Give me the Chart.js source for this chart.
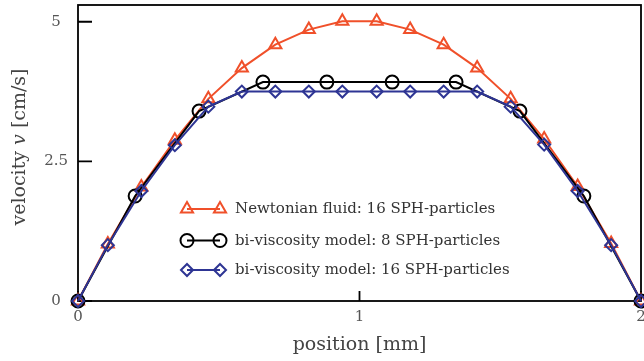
<!DOCTYPE html>
<html><head><meta charset="utf-8">
<script src="https://cdn.jsdelivr.net/npm/chart.js@4.4.0/dist/chart.umd.min.js"></script>
<style>html,body{margin:0;padding:0;background:#fff;} canvas{display:block;}</style>
</head><body>
<canvas id="c" width="644" height="361"></canvas>
<script>
// ---- data ----
const xTicks = [0, 1, 2];
const yTicks = [0, 2.5, 5];

const posNewtonian = [0, 0.106, 0.225, 0.344, 0.463, 0.582, 0.701, 0.820, 0.939, 1.061, 1.180, 1.299, 1.418, 1.537, 1.656, 1.775, 1.894, 2];
const velNewtonian = [0, 1.02, 2.04, 2.88, 3.62, 4.17, 4.59, 4.86, 5.01, 5.01, 4.86, 4.59, 4.17, 3.62, 2.90, 2.05, 1.03, 0];

const posBivisc8 = [0, 0.203, 0.430, 0.657, 0.884, 1.116, 1.343, 1.570, 1.797, 2];
const velBivisc8 = [0, 1.88, 3.40, 3.92, 3.92, 3.92, 3.92, 3.40, 1.88, 0];

const posBivisc16 = [0, 0.106, 0.225, 0.344, 0.463, 0.582, 0.701, 0.820, 0.939, 1.061, 1.180, 1.299, 1.418, 1.537, 1.656, 1.775, 1.894, 2];
const velBivisc16 = [0, 1.00, 1.97, 2.79, 3.48, 3.75, 3.75, 3.75, 3.75, 3.75, 3.75, 3.75, 3.75, 3.48, 2.80, 1.97, 1.00, 0];

const seriesLabels = ['Newtonian fluid: 16 SPH-particles', 'bi-viscosity model: 8 SPH-particles', 'bi-viscosity model: 16 SPH-particles'];

// ---- styles ----
const C_ORANGE = '#F0502A';
const C_BLACK = '#000000';
const C_BLUE = '#2E3594';
const SERIF = '"DejaVu Serif", serif';

const toXY = (xs, ys) => xs.map((x, i) => ({x: x, y: ys[i]}));
const zeroPad = () => ({left: 0, top: 0, right: 0, bottom: 0});

const legendItems = [
  {label: seriesLabels[0], color: C_ORANGE, style: 'triangle', r: 7},
  {label: seriesLabels[1], color: C_BLACK, style: 'circle', r: 6.5},
  {label: seriesLabels[2], color: C_BLUE, style: 'rectRot', r: 6}
];

function marker(ctx, style, x, y, r) {
  ctx.beginPath();
  if (style === 'circle') {
    ctx.arc(x, y, r, 0, Math.PI * 2);
  } else if (style === 'triangle') {
    ctx.moveTo(x, y - r);
    ctx.lineTo(x + 0.866 * r, y + 0.5 * r);
    ctx.lineTo(x - 0.866 * r, y + 0.5 * r);
    ctx.closePath();
  } else {
    ctx.moveTo(x - r, y); ctx.lineTo(x, y - r); ctx.lineTo(x + r, y); ctx.lineTo(x, y + r);
    ctx.closePath();
  }
  ctx.stroke();
}

const framePlugin = {
  id: 'frame',
  beforeDatasetsDraw(chart) {
    const {ctx, chartArea: a, scales} = chart;
    ctx.save();
    ctx.strokeStyle = '#000';
    ctx.lineWidth = 1.8;
    ctx.strokeRect(a.left, a.top, a.right - a.left, a.bottom - a.top);
    ctx.beginPath();
    yTicks.forEach(v => { const py = scales.y.getPixelForValue(v); ctx.moveTo(a.left, py); ctx.lineTo(a.left + 14, py); });
    xTicks.forEach(v => { const px = scales.x.getPixelForValue(v); ctx.moveTo(px, a.bottom); ctx.lineTo(px, a.bottom - 10); });
    ctx.stroke();
    ctx.restore();
  }
};

const yTitlePlugin = {
  id: 'ytitle',
  afterDraw(chart) {
    const ctx = chart.ctx;
    const parts = [
      {t: 'velocity ', f: '19px ' + SERIF},
      {t: 'v', f: 'italic 19px ' + SERIF},
      {t: ' [cm/s]', f: '19px ' + SERIF}
    ];
    ctx.save();
    let total = 0;
    parts.forEach(p => { ctx.font = p.f; p.w = ctx.measureText(p.t).width; total += p.w; });
    ctx.translate(25, 147);
    ctx.rotate(-Math.PI / 2);
    ctx.fillStyle = '#444';
    ctx.textBaseline = 'alphabetic';
    ctx.textAlign = 'left';
    let x = -total / 2;
    parts.forEach(p => { ctx.font = p.f; ctx.fillText(p.t, x, 0); x += p.w; });
    ctx.restore();
  }
};

const legendPlugin = {
  id: 'customLegend',
  afterDatasetsDraw(chart) {
    const ctx = chart.ctx;
    const rowsY = [209, 240.5, 270];
    ctx.save();
    legendItems.forEach((it, i) => {
      const y = rowsY[i];
      ctx.strokeStyle = it.color;
      ctx.lineWidth = 2;
      ctx.beginPath(); ctx.moveTo(187, y); ctx.lineTo(220, y); ctx.stroke();
      marker(ctx, it.style, 187, y, it.r);
      marker(ctx, it.style, 220, y, it.r);
      ctx.fillStyle = '#333';
      ctx.font = '15px ' + SERIF;
      ctx.textBaseline = 'middle';
      ctx.fillText(it.label, 235, y + 0.5);
    });
    ctx.restore();
  }
};

function ds(label, xs, ys, color, style, r, order) {
  return {
    label: label, data: toXY(xs, ys), order: order,
    borderColor: color, backgroundColor: color, borderWidth: 2,
    pointStyle: style, pointRadius: r, pointBorderWidth: 2,
    pointBorderColor: color, pointBackgroundColor: 'rgba(0,0,0,0)',
    pointHoverRadius: r, tension: 0, showLine: true, fill: false, clip: false
  };
}

new Chart(document.getElementById('c'), {
  type: 'line',
  data: {
    datasets: [
      ds(seriesLabels[0], posNewtonian, velNewtonian, C_ORANGE, 'triangle', 7, 2),
      ds(seriesLabels[1], posBivisc8, velBivisc8, C_BLACK, 'circle', 6.5, 1),
      ds(seriesLabels[2], posBivisc16, velBivisc16, C_BLUE, 'rectRot', 6, 0)
    ]
  },
  options: {
    responsive: false,
    animation: false,
    layout: {autoPadding: false, padding: {top: 5, right: 3, left: 0, bottom: 0}},
    plugins: {legend: {display: false}, tooltip: {enabled: false}},
    scales: {
      x: {
        type: 'linear', min: 0, max: 2,
        afterBuildTicks: s => { s.ticks = xTicks.map(v => ({value: v})); },
        grid: {display: false, drawTicks: false},
        border: {display: false},
        ticks: {font: {family: SERIF, size: 15}, color: '#555', padding: 7, maxRotation: 0, autoSkip: false},
        title: {display: true, text: 'position [mm]', font: {family: SERIF, size: 19}, color: '#444', padding: {top: 0, bottom: 5}},
        afterFit: s => { s.height = 60; s.paddingLeft = 0; s.paddingRight = 0; s.getPadding = zeroPad; }
      },
      y: {
        type: 'linear', min: 0, max: 5.3,
        afterBuildTicks: s => { s.ticks = yTicks.map(v => ({value: v})); },
        grid: {display: false, drawTicks: false},
        border: {display: false},
        ticks: {font: {family: SERIF, size: 15}, color: '#555', padding: 10, crossAlign: 'center', autoSkip: false},
        afterFit: s => { s.width = 78; s.paddingTop = 0; s.paddingBottom = 0; s.getPadding = zeroPad; }
      }
    }
  },
  plugins: [framePlugin, yTitlePlugin, legendPlugin]
});
</script>
</body></html>
